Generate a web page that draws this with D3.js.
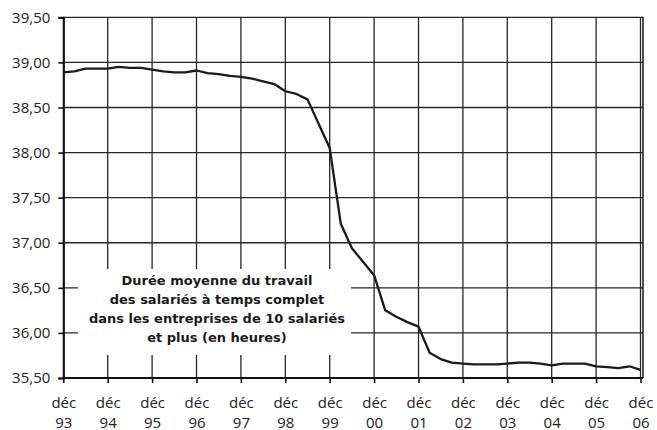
<!DOCTYPE html>
<html>
<head>
<meta charset="utf-8">
<script src="https://cdn.jsdelivr.net/npm/d3@7"></script>
<style>
  html, body { margin: 0; padding: 0; background: #fff; }
  svg { display: block; }
</style>
</head>
<body>
<svg id="chart" width="657" height="430"></svg>
<script>
// ---- data (quarterly, déc 93 -> déc 06) ----
const values = [
  38.89, 38.90, 38.93, 38.93, 38.93, 38.95, 38.94, 38.94,
  38.92, 38.90, 38.89, 38.89, 38.91, 38.88, 38.87, 38.85,
  38.84, 38.82, 38.79, 38.76, 38.68, 38.65, 38.59, 38.32,
  38.05, 37.21, 36.94, 36.79, 36.64, 36.25, 36.18, 36.12,
  36.07, 35.78, 35.71, 35.67, 35.66, 35.65, 35.65, 35.65,
  35.66, 35.67, 35.67, 35.66, 35.64, 35.66, 35.66, 35.66,
  35.63, 35.62, 35.61, 35.63, 35.59
];
const tickMonths = ["déc","déc","déc","déc","déc","déc","déc","déc","déc","déc","déc","déc","déc","déc"];
const tickYears  = ["93","94","95","96","97","98","99","00","01","02","03","04","05","06"];
const tickIndex  = [0, 4, 8, 12, 16, 20, 24, 28, 32, 36, 40, 44, 48, 52];
const yTicks     = [35.5, 36.0, 36.5, 37.0, 37.5, 38.0, 38.5, 39.0, 39.5];
const titleLines = ["Durée moyenne du travail", "des salariés à temps complet",
                    "dans les entreprises de 10 salariés", "et plus (en heures)"];

// ---- layout ----
const L = 63.3, R = 643, T = 17.3, B = 378;
const svg = d3.select("#chart");
const x = d3.scaleLinear().domain([0, values.length - 1]).range([L, 640.5]);
const y = d3.scaleLinear().domain([35.5, 39.5]).range([B, T]);
const fr = d3.formatLocale({decimal: ",", thousands: " ", grouping: [3], currency: ["", "€"]});
const fmt = fr.format(".2f");
const ink = "#262626";

// horizontal gridlines
svg.append("g").selectAll("line").data(yTicks.filter(d => d > 35.5)).join("line")
  .attr("x1", L).attr("x2", R).attr("y1", d => y(d)).attr("y2", d => y(d))
  .attr("stroke", ink).attr("stroke-width", 1.3);

// vertical gridlines
svg.append("g").selectAll("line").data(tickIndex.slice(1)).join("line")
  .attr("x1", d => x(d)).attr("x2", d => x(d)).attr("y1", T).attr("y2", B)
  .attr("stroke", ink).attr("stroke-width", 1.3);

// right frame
svg.append("line").attr("x1", R).attr("x2", R).attr("y1", T - 0.6).attr("y2", B)
  .attr("stroke", ink).attr("stroke-width", 1.6);

// label box
const boxG = svg.append("g");
boxG.append("rect").attr("x", 78).attr("y", 269).attr("width", 273).attr("height", 86)
  .attr("fill", "#fff");
boxG.selectAll("text").data(titleLines).join("text")
  .attr("x", 217).attr("y", (d, i) => 285 + i * 19)
  .attr("text-anchor", "middle")
  .attr("font-family", "'DejaVu Sans', sans-serif")
  .attr("font-weight", "bold").attr("font-size", 13)
  .attr("fill", "#1a1a1a")
  .text(d => d);

// data line
svg.append("path").datum(values)
  .attr("fill", "none").attr("stroke", "#1a1a1a").attr("stroke-width", 2.3)
  .attr("stroke-linejoin", "round")
  .attr("d", d3.line().x((d, i) => x(i)).y(d => y(d)));

// y axis
const yAxis = svg.append("g").attr("transform", `translate(${L},0)`)
  .call(d3.axisLeft(y).tickValues(yTicks).tickFormat(fmt).tickSize(5).tickPadding(8));
yAxis.select(".domain").attr("stroke", "#111").attr("stroke-width", 2.2);
yAxis.selectAll(".tick line").attr("stroke", "#111").attr("stroke-width", 1.6);
yAxis.selectAll(".tick text").attr("font-family", "'Open Sans', sans-serif")
  .attr("font-size", 15).attr("fill", "#222");

// x axis
const xAxis = svg.append("g").attr("transform", `translate(0,${B})`)
  .call(d3.axisBottom(x).tickValues(tickIndex).tickFormat("").tickSize(5).tickSizeOuter(0));
xAxis.select(".domain").attr("d", `M${L},0H${R}`).attr("stroke", "#111").attr("stroke-width", 2.2);
xAxis.selectAll(".tick line").attr("stroke", "#111").attr("stroke-width", 1.6);
xAxis.selectAll(".tick").each(function(d, i) {
  const t = d3.select(this).append("text")
    .attr("text-anchor", "middle")
    .attr("font-family", "'Open Sans', sans-serif")
    .attr("font-size", 15).attr("fill", "#222");
  t.append("tspan").attr("x", 0).attr("y", 30).text(tickMonths[i]);
  t.append("tspan").attr("x", 0).attr("y", 50).text(tickYears[i]);
});
</script>
</body>
</html>
